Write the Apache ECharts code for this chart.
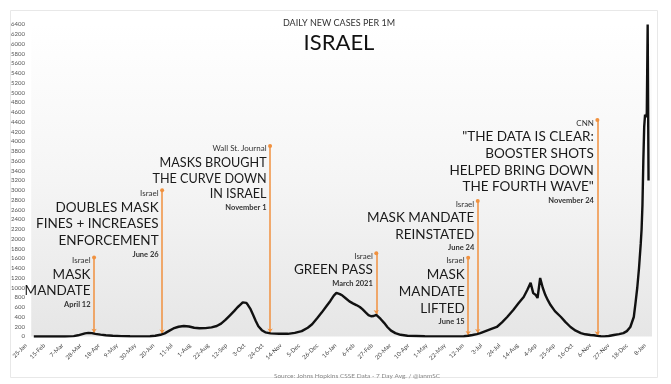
<!DOCTYPE html>
<html><head><meta charset="utf-8">
<script src="https://cdn.jsdelivr.net/npm/echarts@6/dist/echarts.min.js"></script>
<style>html,body{margin:0;padding:0;background:#fff}#c{width:671px;height:384px}</style>
</head><body><div id="c"></div>
<script>
// x ticks every 21 days starting 25-Jan-2020
const tickLabels = ['25-Jan','15-Feb','7-Mar','28-Mar','18-Apr','9-May','30-May','20-Jun','11-Jul','1-Aug','22-Aug','12-Sep','3-Oct','24-Oct','14-Nov','5-Dec','26-Dec','16-Jan','6-Feb','27-Feb','20-Mar','10-Apr','1-May','22-May','12-Jun','3-Jul','24-Jul','14-Aug','4-Sep','25-Sep','16-Oct','6-Nov','27-Nov','18-Dec','8-Jan'];
// days since 25-Jan-2020
const days = [9,30,45,55,60,64,68,72,76,80,86,92,100,110,120,135,143,149,155,160,165,170,176,182,188,194,200,207,214,220,225,230,235,240,244,247,250,252,254,256,259,262,265,268,272,276,282,292,302,310,318,325,330,336,341,346,351,355,358,360,362,365,369,373,377,381,385,388,392,395,398,401,404,406,409,413,417,421,426,432,440,460,490,505,510,515,520,524,530,536,543,549,555,562,568,574,578,582,585,588,590,593,596,599,602,605,610,617,622,628,634,640,645,651,655,659,663,667,672,678,684,689,693,697,701,703,705,707,709,710,711,712,713,714,715,716,717,718];
// 7-day avg daily new cases per 1M
const cases = [0,0,1,8,25,45,65,75,70,55,38,25,14,7,4,3,6,15,35,65,115,165,200,215,205,180,170,172,188,215,265,340,430,520,600,650,700,665,690,645,560,440,320,210,130,85,65,55,55,75,110,180,250,380,490,610,730,840,895,910,870,840,780,720,680,645,605,560,490,440,415,420,445,420,360,280,190,120,70,35,15,5,3,5,15,30,50,70,110,150,195,290,400,545,680,810,950,1100,890,850,790,1200,1000,850,740,645,520,400,300,195,120,70,45,30,25,12,5,2,10,30,50,70,110,195,400,690,1000,1400,1900,2200,2700,3600,4300,4550,4500,4580,6400,3200];
// annotations
const annDays = [78.5,157,281.5,404,510,521,659];
const annTops = [1620,3000,3910,1710,1615,2780,4440];
const annSources = ['Israel','Israel','Wall St. Journal','Israel','Israel','Israel','CNN'];
const annHeadlines = [
  ['MASK','MANDATE'],
  ['DOUBLES MASK','FINES + INCREASES','ENFORCEMENT'],
  ['MASKS BROUGHT','THE CURVE DOWN','IN ISRAEL'],
  ['GREEN PASS'],
  ['MASK','MANDATE','LIFTED'],
  ['MASK MANDATE','REINSTATED'],
  ['"THE DATA IS CLEAR:','BOOSTER SHOTS','HELPED BRING DOWN','THE FOURTH WAVE"']
];
const annDates = ['April 12','June 26','November 1','March 2021','June 15','June 24','November 24'];
// headline text size / line step per annotation (style only)
const annFont = [13.5,13.5,12.6,13.5,13.5,13.5,13.5];
const annStep = [16.6,16.8,15.7,16.6,16.8,16.6,16.6];

const FONT = 'Lato';
const ORANGE = '#f0913f';

function valueAt(d){
  for(let i=1;i<days.length;i++){
    if(days[i]>=d){
      const t=(d-days[i-1])/(days[i]-days[i-1]);
      return cases[i-1]+t*(cases[i]-cases[i-1]);
    }
  }
  return cases[cases.length-1];
}

const lineData = days.map((d,i)=>[d,cases[i]]);
const markLines = annDays.map((d,i)=>[
  {coord:[d,annTops[i]], symbol:'circle', symbolSize:4},
  {coord:[d,valueAt(d)+15], symbol:'arrow', symbolSize:4}
]);

const chart = echarts.init(document.getElementById('c'));
chart.setOption({
  animation:false,
  backgroundColor:'#fff',
  grid:{left:26,right:19,top:24.5,bottom:47.5,containLabel:false},
  title:[
    {text:'DAILY NEW CASES PER 1M',left:334,top:14,textAlign:'center',textStyle:{fontFamily:FONT,fontSize:9,fontWeight:'normal',color:'#333'}},
    {text:'ISRAEL',left:334,top:27,textAlign:'center',textStyle:{fontFamily:FONT,fontSize:22,fontWeight:'normal',color:'#111'}},
    {text:'Source: Johns Hopkins CSSE Data - 7 Day Avg. / @ianmSC',left:352,top:367,textAlign:'center',textStyle:{fontFamily:FONT,fontSize:6.5,fontWeight:'normal',color:'#888'}}
  ],
  xAxis:{type:'value',min:0,max:722,interval:21,
    axisLine:{show:false},axisTick:{show:false},splitLine:{show:false},
    axisLabel:{rotate:45,fontSize:6,color:'#444',fontFamily:FONT,margin:8,showMaxLabel:false,
      formatter:v=>{const k=v/21;return (Number.isInteger(k)&&k<tickLabels.length)?tickLabels[k]:'';}}
  },
  yAxis:{type:'value',min:0,max:6400,interval:200,
    axisLine:{show:false},axisTick:{show:false},splitLine:{show:false},
    axisLabel:{fontSize:6,color:'#555',fontFamily:FONT,margin:1,formatter:v=>String(v)}
  },
  series:[{
    type:'line',data:lineData,showSymbol:false,smooth:false,
    lineStyle:{color:'#111',width:2.4},
    z:5,
    markArea:{silent:true,itemStyle:{color:{type:'linear',x:0,y:0,x2:0,y2:1,colorStops:[{offset:0,color:'#ffffff'},{offset:0.5,color:'#f5f5f5'},{offset:1,color:'#e6e6e6'}]}},
      data:[[{coord:[6,0]},{coord:[722,6400]}]]},
    markLine:{silent:true,animation:false,label:{show:false},
      lineStyle:{color:ORANGE,width:1.5,type:'solid'},
      data:markLines}
  }]
});

const g=[];
g.push({type:'rect',shape:{x:10.5,y:10.5,width:647,height:367},style:{fill:'none',stroke:'#e8e8e8',lineWidth:1},silent:true});
function txt(x,y,t,size,weight,color){
  return {type:'text',x:x,y:y,z:100,silent:true,
    style:{text:t,fill:color,fontSize:size,fontFamily:FONT,fontWeight:weight,
      align:'right',verticalAlign:'middle',textAlign:'right',textVerticalAlign:'middle'}};
}
annDays.forEach((d,i)=>{
  const p = chart.convertToPixel({xAxisIndex:0,yAxisIndex:0},[d,annTops[i]]);
  const x = p[0]-3.5, y=p[1];
  g.push(txt(x,y+3,annSources[i],8,'normal','#333'));
  let yy=y+17;
  annHeadlines[i].forEach((t,j)=>{
    g.push(txt(x,yy,t,annFont[i],'normal','#1a1a1a'));
    if(j<annHeadlines[i].length-1) yy+=annStep[i];
  });
  g.push(txt(x,yy+13.4,annDates[i],7.5,'bold','#333'));
});
chart.setOption({graphic:{elements:g}});
</script></body></html>
